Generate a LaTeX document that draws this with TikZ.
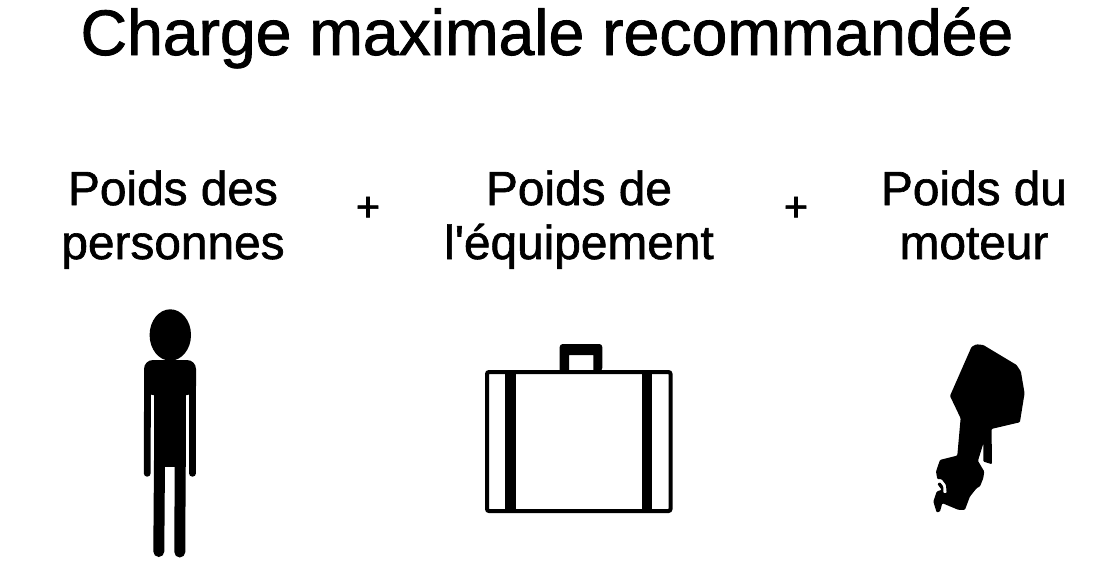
\documentclass[tikz,border=0pt]{standalone}
\usepackage{fontspec}
\setmainfont{Liberation Sans}[FakeBold=1.3]
\tikzset{
    titre/.style={inner sep=0pt, font=\fontsize{64.3}{66}\selectfont},
    poids/.style={inner sep=0pt, align=center, font=\fontsize{47.8}{55}\selectfont},
    plus/.style={inner sep=0pt, font=\fontsize{42}{42}\selectfont},
    trait/.style={line width=4pt, rounded corners=2pt},
    bras/.style={line width=6.8pt, line cap=round},
    jambe/.style={line width=11pt, line cap=round}
}
\begin{document}
\begin{tikzpicture}[x=1pt, y=-1pt]
    \useasboundingbox (0,0) rectangle (1100,565);
    % Texts
    \node [titre, anchor=base] (ltitre) at (547,55) {Charge maximale recommandée};
    \node [poids, anchor=base] (lpers) at (173,205) {Poids des};
    \node [poids, anchor=base] (lpersb) at (173,259) {personnes};
    \node [poids, anchor=base] (lequip) at (579,205) {Poids de};
    \node [poids, anchor=base] (lequipb) at (579,259) {l\textquotesingle équipement};
    \node [poids, anchor=base] (lmot) at (974,205) {Poids du};
    \node [poids, anchor=base] (lmotb) at (974,259) {moteur};
    \node [plus] (pa) at (368,209) {+};
    \node [plus] (pb) at (796,209) {+};
    % Person
    \fill (170.3,335) ellipse [x radius=20.7, y radius=25.7];
    \fill [rounded corners=9pt] (144,395) -- (144,360) -- (196,360) -- (196,395) -- cycle;
    \fill (154,380) rectangle (185.7,467);
    \draw [bras] (147.5,380) -- (147.2,473.3);
    \draw [bras] (192.5,380) -- (192.5,473.3);
    \draw [jambe] (159.5,460) -- (158.8,551.5);
    \draw [jambe] (180.2,460) -- (179.8,552);
    % Suitcase
    \draw [trait] (487,372) rectangle (670.5,511);
    \fill (505.3,370) rectangle (516,512);
    \fill (641.7,370) rectangle (652.3,512);
    \fill [rounded corners=3pt] (559.7,371) -- (559.7,344) -- (602.3,344) -- (602.3,371) [sharp corners] -- (593.3,371) -- (593.3,355) -- (569,355) -- (569,371) -- cycle;
    % Motor
    \begin{scope}[shift={(920,335)}, x=0.333pt, y=-0.333pt]
        \fill [rounded corners=1pt] (155,35) -- (170,28) -- (190,30) -- (290,90) -- (303,110) -- (314,175) -- (300,262)
            -- (215,282) -- (216,388) -- (190,380) -- (190,326) -- (174,378) -- (193,410) -- (190,430) -- (180,455)
            -- (170,460) -- (150,485) -- (135,525) -- (115,525) -- (67,505) -- (60,530) -- (50,533) -- (40,500) -- (50,470)
            -- (65,465) -- (52,447) -- (60,442) -- (70,455) -- (70,475) -- (80,475) -- (78,450) -- (65,433) -- (52,433)
            -- (48,410) -- (60,375) -- (112,362) -- (122,250) -- (90,183) -- cycle;
    \end{scope}
\end{tikzpicture}
\end{document}
